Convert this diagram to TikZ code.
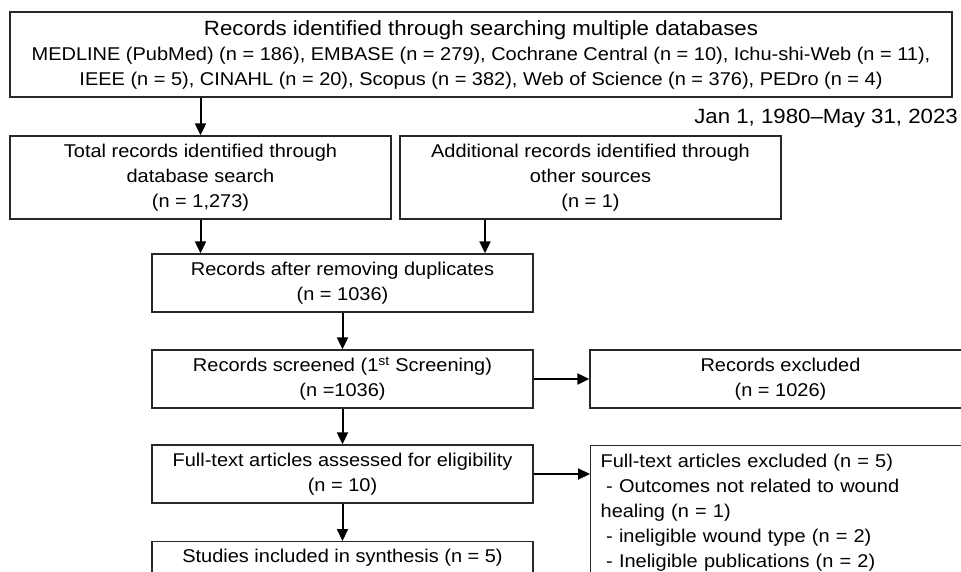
\documentclass[tikz,border=0pt]{standalone}
\usepackage{fontspec}
\setmainfont{Liberation Sans}[FakeStretch=1.08]
\usepackage{tikz}
\usetikzlibrary{positioning,arrows.meta,calc}
\definecolor{boxline}{RGB}{40,40,40}
\newcommand{\bodysize}{\fontsize{18.5}{25}\selectfont}
\newcommand{\headsize}{\fontsize{20.6}{26}\selectfont}
\tikzset{
  flowbox/.style={draw=boxline, line width=1.3pt, fill=white, minimum width=381pt,
                  minimum height=58pt, font=\bodysize, align=center, inner sep=2pt},
  listbox/.style={draw=boxline, line width=1.3pt, fill=white, font=\bodysize,
                  align=left, text width=361pt, inner xsep=10pt, inner ysep=8pt},
  arr/.style={-{Triangle[length=12pt,width=11pt]}, line width=2pt, black}
}

\begin{document}
\begin{tikzpicture}[x=1pt,y=-1pt]
  \useasboundingbox (0,0) rectangle (961,572);
  \fill[white] (0,0) rectangle (961,572);
  \clip (0,0) rectangle (961,572);

  %% Identification
  \node[flowbox, minimum width=942pt, minimum height=85pt] (search) at (481,54.5)
       {{\headsize Records identified through searching multiple databases}\\
        MEDLINE (PubMed) (n = 186), EMBASE (n = 279), Cochrane Central (n = 10), Ichu-shi-Web (n = 11),\\
        IEEE (n = 5), CINAHL (n = 20), Scopus (n = 382), Web of Science (n = 376), PEDro (n = 4)};
  \node[anchor=east, font=\headsize, inner sep=0pt] (period) at (958,118) {Jan 1, 1980–May 31, 2023};

  \node[flowbox, minimum height=83pt] (total) at (200.5,177.5)
       {Total records identified through\\database search\\(n = 1,273)};
  \node[flowbox, minimum height=83pt] (other) at (590.5,177.5)
       {Additional records identified through\\other sources\\(n = 1)};

  %% Screening
  \node[flowbox] (dedup) at (342.5,283) {Records after removing duplicates\\(n = 1036)};
  \node[flowbox] (screen) at (342.5,379) {Records screened (1\textsuperscript{st} Screening)\\(n =1036)};
  \node[flowbox] (excluded) at (780.5,379) {Records excluded\\(n = 1026)};

  %% Eligibility / included
  \node[flowbox] (fulltext) at (342.5,474) {Full-text articles assessed for eligibility\\(n = 10)};
  \node[listbox, anchor=north west, text depth=135pt] (ftexcl) at (590,445)
       {Full-text articles excluded (n = 5)\\
        \hspace*{0.3em}- Outcomes not related to wound\\
        healing (n = 1)\\
        \hspace*{0.3em}- ineligible wound type (n = 2)\\
        \hspace*{0.3em}- Ineligible publications (n = 2)};
  \node[flowbox, anchor=north, minimum height=0pt, inner ysep=3pt,
        text height=18pt, text depth=45pt] (included) at (342.5,541)
       {Studies included in synthesis (n = 5)};

  % connectors
  \coordinate (otherdrop) at ([xshift=-105.5pt]other.south);
  \draw[arr] (total.north |- search.south) -- (total.north);
  \draw[arr] (total.south) -- (total.south |- dedup.north);
  \draw[arr] (otherdrop) -- (otherdrop |- dedup.north);
  \draw[arr] (dedup.south) -- (screen.north);
  \draw[arr] (screen.south) -- (fulltext.north);
  \draw[arr] (fulltext.south) -- (included.north);
  \draw[arr] (screen.east) -- (excluded.west);
  \draw[arr] (fulltext.east) -- (fulltext.east -| ftexcl.west);
\end{tikzpicture}
\end{document}
